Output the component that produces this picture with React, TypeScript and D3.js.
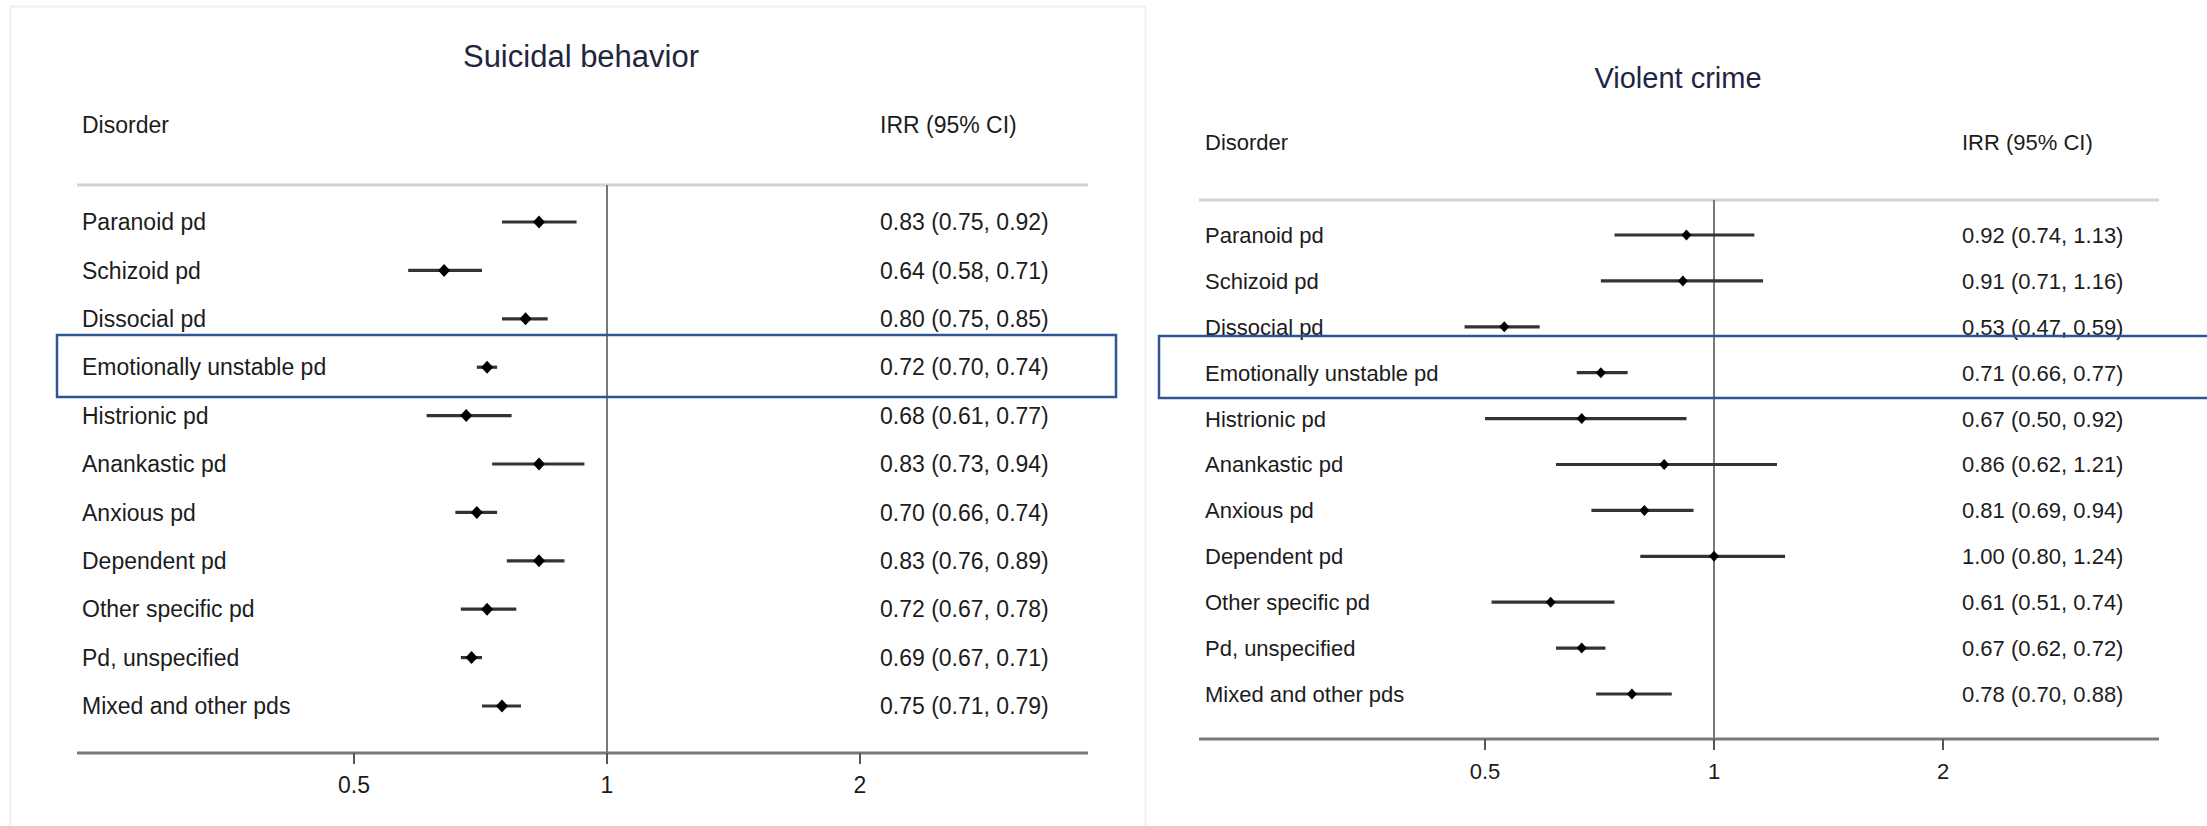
import React from "react";
import * as d3 from "d3";

const disorders = [
  "Paranoid pd",
  "Schizoid pd",
  "Dissocial pd",
  "Emotionally unstable pd",
  "Histrionic pd",
  "Anankastic pd",
  "Anxious pd",
  "Dependent pd",
  "Other specific pd",
  "Pd, unspecified",
  "Mixed and other pds",
];

const suicidalIRR = [0.83, 0.64, 0.8, 0.72, 0.68, 0.83, 0.7, 0.83, 0.72, 0.69, 0.75];
const suicidalLow = [0.75, 0.58, 0.75, 0.7, 0.61, 0.73, 0.66, 0.76, 0.67, 0.67, 0.71];
const suicidalHigh = [0.92, 0.71, 0.85, 0.74, 0.77, 0.94, 0.74, 0.89, 0.78, 0.71, 0.79];

const violentIRR = [0.92, 0.91, 0.53, 0.71, 0.67, 0.86, 0.81, 1.0, 0.61, 0.67, 0.78];
const violentLow = [0.74, 0.71, 0.47, 0.66, 0.5, 0.62, 0.69, 0.8, 0.51, 0.62, 0.7];
const violentHigh = [1.13, 1.16, 0.59, 0.77, 0.92, 1.21, 0.94, 1.24, 0.74, 0.72, 0.88];

const tickValues = [0.5, 1, 2];
const tickLabels = ["0.5", "1", "2"];
const highlighted = "Emotionally unstable pd";

const FONT = "'Liberation Sans', Arial, Helvetica, sans-serif";

type PanelProps = {
  title: string;
  irr: number[];
  low: number[];
  high: number[];
  titleX: number;
  titleY: number;
  titleSize: number;
  fontSize: number;
  headerY: number;
  labelX: number;
  valueX: number;
  lineX0: number;
  lineX1: number;
  topY: number;
  axisY: number;
  rowY0: number;
  rowY1: number;
  tickX0: number; // x of 0.5
  tickX1: number; // x of 2
  boxX0: number;
  boxX1: number;
  boxY0: number;
  boxY1: number;
  diamondW: number;
  diamondH: number;
};

function fmt(v: number) {
  return v.toFixed(2);
}

function Panel(p: PanelProps) {
  const x = d3.scaleLog().domain([0.5, 2]).range([p.tickX0, p.tickX1]);
  const y = d3.scalePoint<string>().domain(disorders).range([p.rowY0, p.rowY1]);
  const textColor = "#1c1c1c";
  return (
    <g>
      <text
        x={p.titleX}
        y={p.titleY}
        textAnchor="middle"
        fontSize={p.titleSize}
        fill="#1f2640"
        fontFamily={FONT}
      >
        {p.title}
      </text>
      <text x={p.labelX} y={p.headerY} fontSize={p.fontSize} fill={textColor} fontFamily={FONT}>
        Disorder
      </text>
      <text x={p.valueX} y={p.headerY} fontSize={p.fontSize} fill={textColor} fontFamily={FONT}>
        IRR (95% CI)
      </text>
      <line x1={p.lineX0} x2={p.lineX1} y1={p.topY} y2={p.topY} stroke="#d4d4d4" strokeWidth={3} />
      <line x1={x(1)} x2={x(1)} y1={p.topY} y2={p.axisY} stroke="#6a6a6a" strokeWidth={1.8} />
      <line x1={p.lineX0} x2={p.lineX1} y1={p.axisY} y2={p.axisY} stroke="#7a7a7a" strokeWidth={3} />
      {tickValues.map((t, i) => (
        <g key={t}>
          <line x1={x(t)} x2={x(t)} y1={p.axisY} y2={p.axisY + 11} stroke="#555" strokeWidth={2} />
          <text
            x={x(t)}
            y={p.axisY + 40}
            textAnchor="middle"
            fontSize={p.fontSize}
            fill={textColor}
            fontFamily={FONT}
          >
            {tickLabels[i]}
          </text>
        </g>
      ))}
      {disorders.map((d, i) => {
        const cy = y(d) as number;
        const cx = x(p.irr[i]);
        const hw = p.diamondW / 2;
        const hh = p.diamondH / 2;
        return (
          <g key={d}>
            <text
              x={p.labelX}
              y={cy}
              dy="0.36em"
              fontSize={p.fontSize}
              fill={textColor}
              fontFamily={FONT}
            >
              {d}
            </text>
            <text
              x={p.valueX}
              y={cy}
              dy="0.36em"
              fontSize={p.fontSize}
              fill={textColor}
              fontFamily={FONT}
            >
              {`${fmt(p.irr[i])} (${fmt(p.low[i])}, ${fmt(p.high[i])})`}
            </text>
            <line
              x1={x(p.low[i])}
              x2={x(p.high[i])}
              y1={cy}
              y2={cy}
              stroke="#333"
              strokeWidth={3.2}
            />
            <path
              d={`M${cx - hw},${cy} L${cx},${cy - hh} L${cx + hw},${cy} L${cx},${cy + hh} Z`}
              fill="#000"
            />
          </g>
        );
      })}
      <rect
        x={p.boxX0}
        y={p.boxY0}
        width={p.boxX1 - p.boxX0}
        height={p.boxY1 - p.boxY0}
        fill="none"
        stroke="#2f5597"
        strokeWidth={2.5}
      />
    </g>
  );
}

export default function App() {
  return (
    <svg
      width={2207}
      height={826}
      style={{ position: "absolute", left: 0, top: 0, background: "#fff" }}
    >
      <rect x={0} y={0} width={2207} height={826} fill="#fff" />
      <rect x={10.5} y={6.5} width={1135} height={830} fill="none" stroke="#f0f0f0" strokeWidth={2} />
      <Panel
        title="Suicidal behavior"
        irr={suicidalIRR}
        low={suicidalLow}
        high={suicidalHigh}
        titleX={581}
        titleY={67}
        titleSize={31}
        fontSize={23}
        headerY={133}
        labelX={82}
        valueX={880}
        lineX0={77}
        lineX1={1088}
        topY={185}
        axisY={753}
        rowY0={222}
        rowY1={706}
        tickX0={354}
        tickX1={860}
        boxX0={57}
        boxX1={1116}
        boxY0={335}
        boxY1={397}
        diamondW={12}
        diamondH={13}
      />
      <Panel
        title="Violent crime"
        irr={violentIRR}
        low={violentLow}
        high={violentHigh}
        titleX={1678}
        titleY={88}
        titleSize={29}
        fontSize={22}
        headerY={150}
        labelX={1205}
        valueX={1962}
        lineX0={1199}
        lineX1={2159}
        topY={200}
        axisY={739}
        rowY0={235}
        rowY1={694}
        tickX0={1485}
        tickX1={1943}
        boxX0={1159}
        boxX1={2220}
        boxY0={336}
        boxY1={398}
        diamondW={10}
        diamondH={11}
      />
    </svg>
  );
}
